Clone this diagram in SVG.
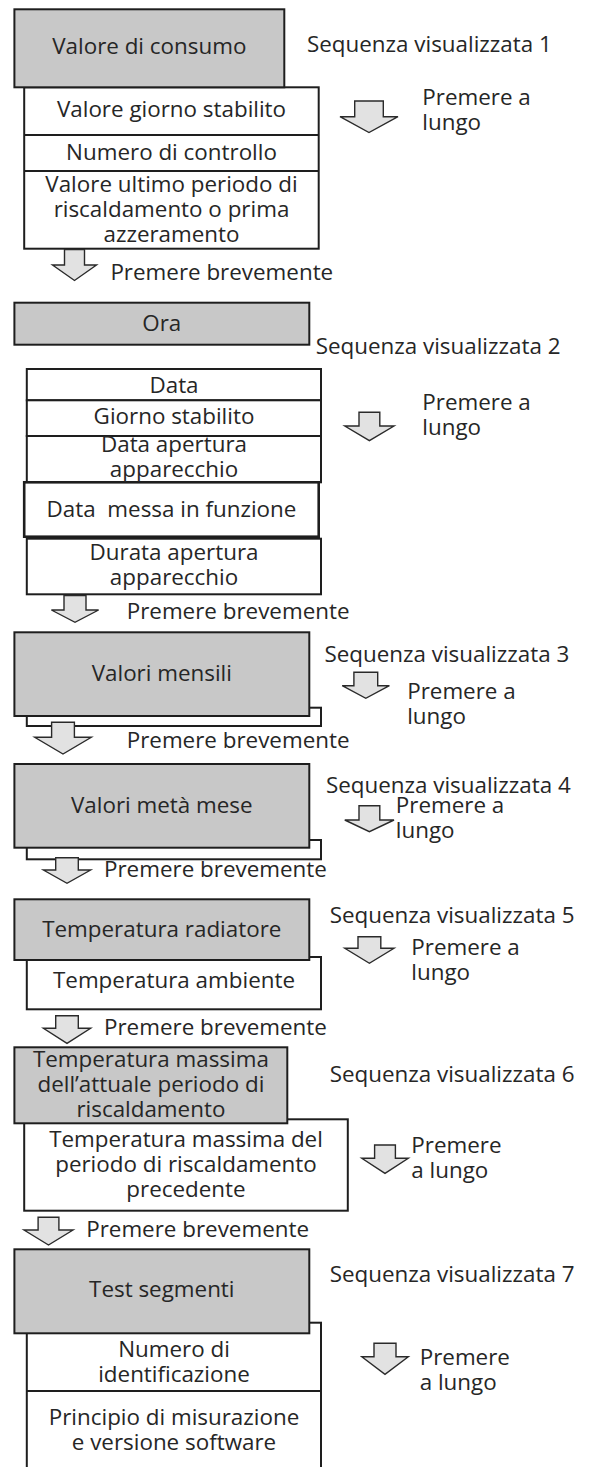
<svg xmlns="http://www.w3.org/2000/svg" width="593" height="1467" viewBox="0 0 593 1467">
<style>
  text { font-family: "Open Sans", "Liberation Sans", sans-serif; font-size: 22.4px; fill: #262626; }
  .c { text-anchor: middle; }
  .gray { fill: #c8c8c8; stroke: #1e1e1e; stroke-width: 2; }
  .white { fill: #ffffff; stroke: #1e1e1e; stroke-width: 2; }
  .thick { fill: #ffffff; stroke: #1e1e1e; stroke-width: 2.6; }
  .sep { stroke: #1e1e1e; stroke-width: 2; }
  .arrow { fill: #e2e2e2; stroke: #2a2a2a; stroke-width: 1.4; stroke-linejoin: miter; }
</style>
<rect width="593" height="1467" fill="#ffffff"/>

<g id="node1">
  <rect class="white" x="24.2" y="87.3" width="294.5" height="161.4"/>
  <line class="sep" x1="24.2" y1="135" x2="318.7" y2="135"/>
  <line class="sep" x1="24.2" y1="171" x2="318.7" y2="171"/>
  <rect class="gray" x="14.4" y="9.3" width="269.9" height="78"/>
  <text class="c" x="149.3" y="54">Valore di consumo</text>
  <text class="c" x="171.5" y="117.3">Valore giorno stabilito</text>
  <text class="c" x="171.5" y="160">Numero di controllo</text>
  <text class="c" x="171.5" y="191.7">Valore ultimo periodo di</text>
  <text class="c" x="171.5" y="216.7">riscaldamento o prima</text>
  <text class="c" x="171.5" y="241.7">azzeramento</text>
</g>

<g id="node2">
  <rect class="gray" x="14.4" y="302.7" width="294.9" height="42"/>
  <text class="c" x="161.8" y="330.7">Ora</text>
  <rect class="white" x="26.8" y="369" width="294.2" height="31.3"/>
  <rect class="white" x="26.8" y="400.3" width="294.2" height="35.7"/>
  <rect class="white" x="26.8" y="436" width="294.2" height="46.3"/>
  <rect class="thick" x="24.2" y="482.3" width="294.5" height="54.4"/>
  <rect class="white" x="26.8" y="538.7" width="294.2" height="55.6"/>
  <text class="c" x="174" y="393.3">Data</text>
  <text class="c" x="174" y="424.3">Giorno stabilito</text>
  <text class="c" x="174" y="451.7">Data apertura</text>
  <text class="c" x="174" y="476.7">apparecchio</text>
  <text class="c" x="171.5" y="516.7" xml:space="preserve" style="white-space:pre">Data  messa in funzione</text>
  <text class="c" x="174" y="560">Durata apertura</text>
  <text class="c" x="174" y="585">apparecchio</text>
</g>

<g id="node3">
  <rect class="white" x="26.8" y="707.7" width="294.2" height="18.3"/>
  <rect class="gray" x="14.4" y="632.3" width="294.9" height="83.7"/>
  <text class="c" x="161.8" y="680.7">Valori mensili</text>
</g>

<g id="node4">
  <rect class="white" x="26.8" y="840" width="294.2" height="19.3"/>
  <rect class="gray" x="14.4" y="764" width="294.9" height="83.7"/>
  <text class="c" x="161.8" y="812.7">Valori metà mese</text>
</g>

<g id="node5">
  <rect class="white" x="26.8" y="957" width="294.2" height="52.3"/>
  <rect class="gray" x="14.4" y="899.3" width="294.9" height="60.7"/>
  <text class="c" x="161.8" y="937.3">Temperatura radiatore</text>
  <text class="c" x="174" y="988.3">Temperatura ambiente</text>
</g>

<g id="node6">
  <rect class="white" x="24.2" y="1119.3" width="323.6" height="91.4"/>
  <rect class="gray" x="14.4" y="1047.3" width="272.9" height="76"/>
  <text class="c" x="150.9" y="1066.7">Temperatura massima</text>
  <text class="c" x="150.9" y="1091.7">dell’attuale periodo di</text>
  <text class="c" x="150.9" y="1116.7">riscaldamento</text>
  <text class="c" x="186" y="1146.7">Temperatura massima del</text>
  <text class="c" x="186" y="1171.7">periodo di riscaldamento</text>
  <text class="c" x="186" y="1196.7">precedente</text>
</g>

<g id="node7">
  <rect class="white" x="26.8" y="1322.7" width="294.2" height="160"/>
  <line class="sep" x1="26.8" y1="1391" x2="321" y2="1391"/>
  <rect class="gray" x="14.4" y="1249.3" width="294.9" height="84"/>
  <text class="c" x="161.8" y="1297.3">Test segmenti</text>
  <text class="c" x="174" y="1356.7">Numero di</text>
  <text class="c" x="174" y="1381.7">identificazione</text>
  <text class="c" x="174" y="1425">Principio di misurazione</text>
  <text class="c" x="174" y="1450">e versione software</text>
</g>

<g id="sequence-labels">
  <text x="307" y="51.7">Sequenza visualizzata 1</text>
  <text x="315.7" y="354.3">Sequenza visualizzata 2</text>
  <text x="324.4" y="661.7">Sequenza visualizzata 3</text>
  <text x="325.9" y="792.7">Sequenza visualizzata 4</text>
  <text x="329.7" y="923.3">Sequenza visualizzata 5</text>
  <text x="329.7" y="1081.7">Sequenza visualizzata 6</text>
  <text x="329.7" y="1281.7">Sequenza visualizzata 7</text>
</g>

<g id="connectors">
  <!-- long press arrows -->
  <path class="arrow" d="M354.7,101 H383.3 V116.7 H398 L369,132.5 L340,116.7 H354.7 Z"/>
  <path class="arrow" d="M359,412.3 H379.8 V426 H394 L369.4,440.7 L344.8,426 H359 Z"/>
  <path class="arrow" d="M353.9,672.3 H377.7 V685.7 H389.4 L365.8,698.3 L342.2,685.7 H353.9 Z"/>
  <path class="arrow" d="M359,805.7 H379.8 V820 H394 L369.4,831.7 L344.8,820 H359 Z"/>
  <path class="arrow" d="M358,936.7 H380.8 V948.3 H394 L369.4,963.3 L344.8,948.3 H358 Z"/>
  <path class="arrow" d="M374.6,1145 H395.4 V1158.3 H408.3 L385,1173.3 L361.8,1158.3 H374.6 Z"/>
  <path class="arrow" d="M374,1343.3 H396 V1356.7 H408.3 L385,1374.3 L361.8,1356.7 H374 Z"/>
  <!-- short press arrows -->
  <path class="arrow" d="M64.5,249.5 H84.5 V265 H96.5 L74.5,280.5 L52.5,265 H64.5 Z"/>
  <path class="arrow" d="M64,595.5 H86 V610 H98.6 L75,622.3 L51.4,610 H64 Z"/>
  <path class="arrow" d="M51.6,722.3 H74.4 V737.3 H91.3 L63,754 L34.7,737.3 H51.6 Z"/>
  <path class="arrow" d="M55.7,857.7 H78.3 V870 H90.6 L67,883.3 L43.4,870 H55.7 Z"/>
  <path class="arrow" d="M55.7,1015.7 H78.3 V1028.3 H90.6 L67,1043.3 L43.4,1028.3 H55.7 Z"/>
  <path class="arrow" d="M38.1,1217.3 H58.9 V1230 H73 L48.5,1245 L24,1230 H38.1 Z"/>

  <text x="422.3" y="104.5">Premere a</text>
  <text x="422.3" y="129.5">lungo</text>
  <text x="422.3" y="410">Premere a</text>
  <text x="422.3" y="435">lungo</text>
  <text x="407.2" y="699">Premere a</text>
  <text x="407.2" y="724.3">lungo</text>
  <text x="395.8" y="812.7">Premere a</text>
  <text x="395.8" y="838.3">lungo</text>
  <text x="411.3" y="955">Premere a</text>
  <text x="411.3" y="980">lungo</text>
  <text x="411.3" y="1153.3">Premere</text>
  <text x="411.3" y="1178.3">a lungo</text>
  <text x="419.7" y="1365">Premere</text>
  <text x="419.7" y="1390">a lungo</text>

  <text x="110.4" y="280">Premere brevemente</text>
  <text x="126.7" y="619.3">Premere brevemente</text>
  <text x="126.7" y="748.3">Premere brevemente</text>
  <text x="104" y="876.7">Premere brevemente</text>
  <text x="104" y="1035">Premere brevemente</text>
  <text x="86.2" y="1236.7">Premere brevemente</text>
</g>
</svg>
